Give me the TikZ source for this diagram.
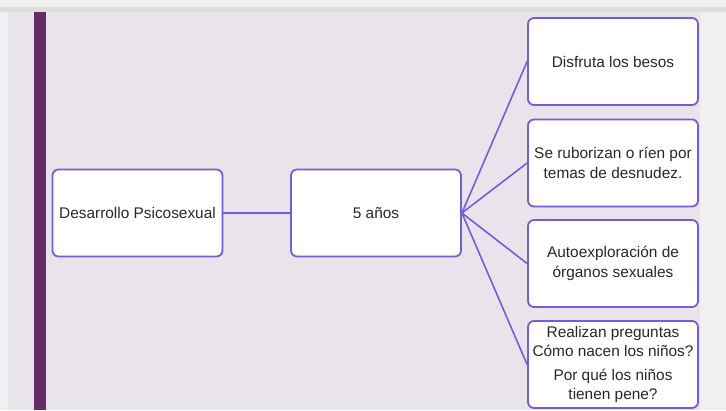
\documentclass[tikz,border=0pt]{standalone}
\usepackage{fontspec}
\setmainfont{Liberation Sans}
\definecolor{fondoext}{RGB}{240,240,240}
\definecolor{franja}{RGB}{221,221,221}
\definecolor{fondo}{RGB}{233,228,235}
\definecolor{barra}{RGB}{99,45,99}
\definecolor{borde}{RGB}{118,92,214}
\definecolor{texto}{RGB}{40,40,40}
\begin{document}
\begin{tikzpicture}[x=1pt,y=-1pt,
  caja/.style={draw=borde, fill=white, line width=1.8pt, rounded corners=6pt,
    minimum width=170pt, minimum height=87pt, inner sep=2pt, align=center,
    text=texto, font=\fontsize{15.4}{19.5}\selectfont},
  enlace/.style={draw=borde, line width=1.6pt}]
\useasboundingbox (0,0) rectangle (726,410);
\fill[fondoext] (0,0) rectangle (726,410);
\fill[franja] (0,7) rectangle (726,12);
\fill[fondo] (8,12) rectangle (700,410);
\fill[barra] (34,12) rectangle (46,410);
% cajas
\node[caja] (desarrollo) at (137.5,213) {Desarrollo Psicosexual};
\node[caja] (edad) at (376,213) {5 años};
\node[caja] (besos) at (613,61.5) {Disfruta los besos};
\node[caja] (desnudez) at (613,163) {Se ruborizan o ríen por\\temas de desnudez.};
\node[caja] (organos) at (613,263.5) {Autoexploración de\\órganos sexuales};
\node[caja] (preguntas) at (613,364.5) {Realizan preguntas\\Cómo nacen los niños?\\[4pt]Por qué los niños\\tienen pene?};
% enlaces
\draw[enlace] (desarrollo.east) -- (edad.west);
\foreach \n in {besos,desnudez,organos,preguntas} \draw[enlace] (edad.east) -- (\n.west);
\end{tikzpicture}
\end{document}
